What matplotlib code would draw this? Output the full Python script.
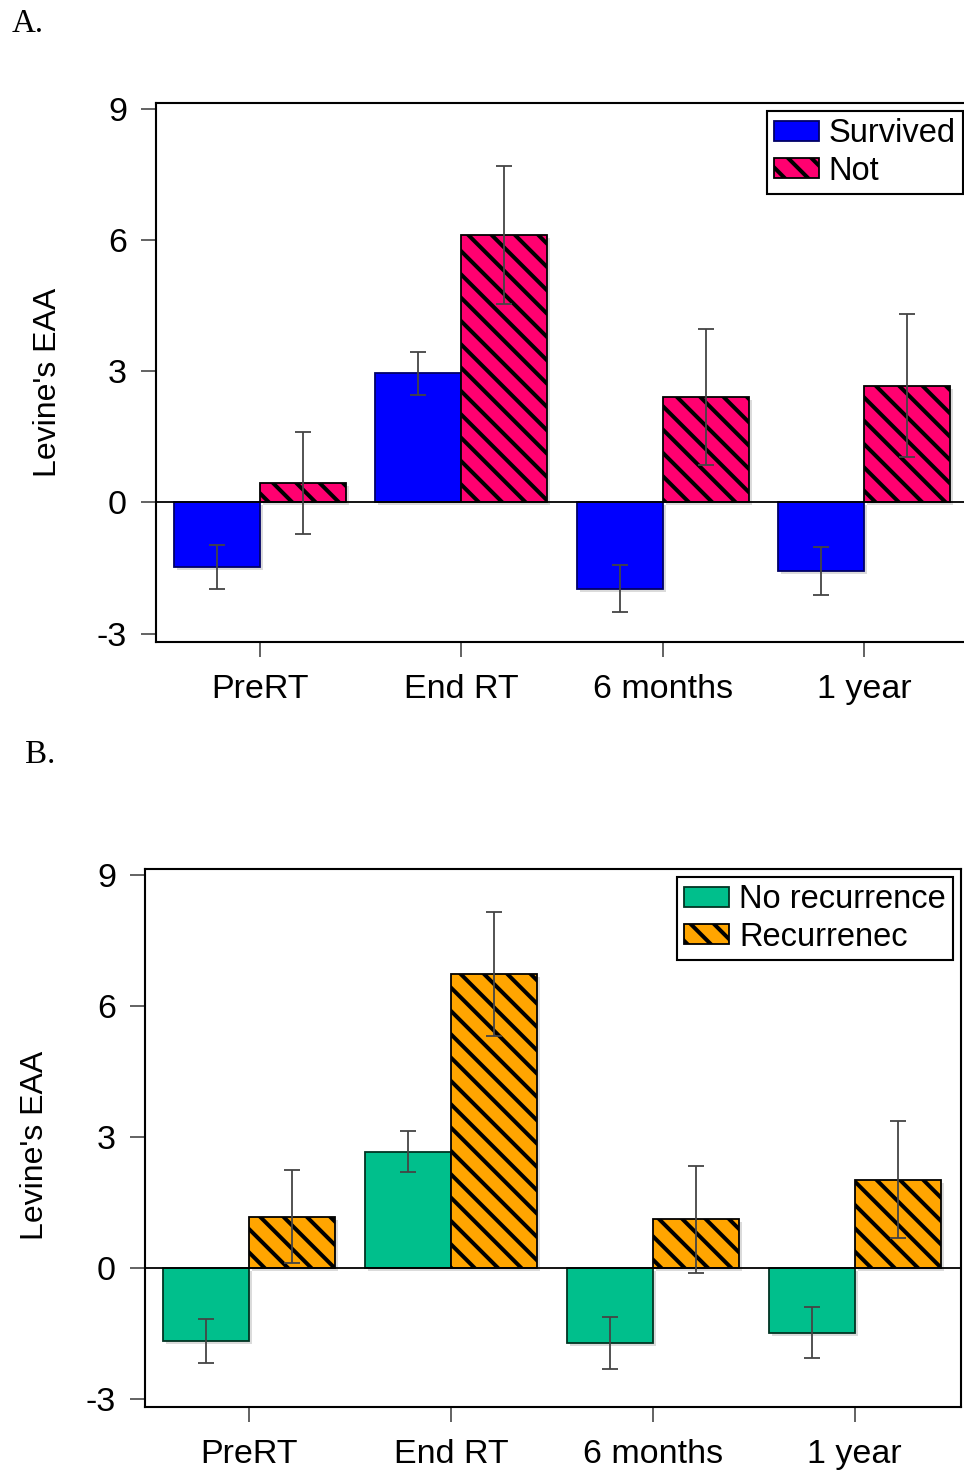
import numpy as np
import matplotlib
matplotlib.use("Agg")
import matplotlib.pyplot as plt
import matplotlib.transforms as mtransforms

# data
timepoints = ["PreRT", "End RT", "6 months", "1 year"]

survived = [-1.47, 2.95, -1.97, -1.56]
survived_err = [0.50, 0.49, 0.53, 0.55]
not_survived = [0.44, 6.11, 2.41, 2.67]
not_survived_err = [1.16, 1.58, 1.55, 1.63]

no_recur = [-1.68, 2.66, -1.72, -1.49]
no_recur_err = [0.50, 0.47, 0.59, 0.58]
recur = [1.17, 6.73, 1.11, 2.01]
recur_err = [1.07, 1.42, 1.23, 1.34]

# higher dpi so the hatch stripes come out as wide as in the original
DPI = 140


def px(v):
    # pixels -> points
    return v * 72.0 / DPI


plt.rcParams['font.family'] = ['Liberation Sans', 'DejaVu Sans']
plt.rcParams['axes.unicode_minus'] = False
plt.rcParams['hatch.linewidth'] = px(4)

fig = plt.figure(figsize=(964 / DPI, 1472 / DPI), dpi=DPI)
shadow = mtransforms.ScaledTranslation(px(3) / 72, -px(3) / 72, fig.dpi_scale_trans)


def panel(ax, vals1, err1, vals2, err2, lab1, lab2, col1, col2, edge1):
    x = np.arange(len(timepoints))
    w = 0.427
    # soft drop shadow behind the bars
    for xs, v in ((x - w / 2, vals1), (x + w / 2, vals2)):
        ax.bar(xs, v, w, color='#999999', alpha=0.35, linewidth=0,
               transform=ax.transData + shadow, zorder=1.5)
    ax.bar(x - w / 2, vals1, w, color=col1, edgecolor=edge1, linewidth=px(1.8),
           label=lab1, zorder=2)
    ax.bar(x + w / 2, vals2, w, color=col2, edgecolor='black', linewidth=px(1.8),
           hatch='\\\\', label=lab2, zorder=2)
    ax.errorbar(x - w / 2, vals1, yerr=err1, fmt='none', ecolor='#444444',
                elinewidth=px(1.8), capsize=px(8), capthick=px(1.8), zorder=3)
    ax.errorbar(x + w / 2, vals2, yerr=err2, fmt='none', ecolor='#444444',
                elinewidth=px(1.8), capsize=px(8), capthick=px(1.8), zorder=3)
    ax.axhline(0, color='black', linewidth=px(1.8), zorder=2.5)
    ax.set_ylim(-3.19, 9.13)
    ax.set_yticks([-3, 0, 3, 6, 9])
    ax.set_xticks(x)
    ax.set_xticklabels(timepoints)
    ax.tick_params(axis='both', labelsize=px(34), length=px(15), width=px(1.8),
                   color='#555555')
    ax.tick_params(axis='x', pad=px(17))
    ax.tick_params(axis='y', pad=px(14))
    for s in ax.spines.values():
        s.set_linewidth(px(2.1))
        s.set_color('black')
    ax.set_ylabel("Levine's EAA", fontsize=px(32))
    leg = ax.legend(loc='upper right', fontsize=px(32.6), frameon=True, fancybox=False,
                    edgecolor='black', framealpha=1, borderpad=0.22,
                    handlelength=1.38, handleheight=0.55, handletextpad=0.3,
                    labelspacing=0.2, borderaxespad=0.25)
    leg.get_frame().set_linewidth(px(2.1))


axA = fig.add_axes([156 / 964, 1 - 642 / 1472, 815 / 964, 539 / 1472])
panel(axA, survived, survived_err, not_survived, not_survived_err,
      "Survived", "Not", "#0000FF", "#FF0070", "#000066")
axA.set_xlim(-0.516, 3.53)
axA.yaxis.set_label_coords(-0.114, 0.482)

axB = fig.add_axes([145 / 964, 1 - 1407 / 1472, 816 / 964, 538 / 1472])
panel(axB, no_recur, no_recur_err, recur, recur_err,
      "No recurrence", "Recurrenec", "#00BF8C", "#FFA500", "#003322")
axB.set_xlim(-0.517, 3.527)
axB.yaxis.set_label_coords(-0.116, 0.486)

fig.text(12 / 964, 1 - 8 / 1472, "A.", family='Liberation Serif', fontsize=px(33),
         va='top', ha='left')
fig.text(25 / 964, 1 - 740 / 1472, "B.", family='Liberation Serif', fontsize=px(33),
         va='top', ha='left')

fig.savefig("out.png", dpi=DPI)
